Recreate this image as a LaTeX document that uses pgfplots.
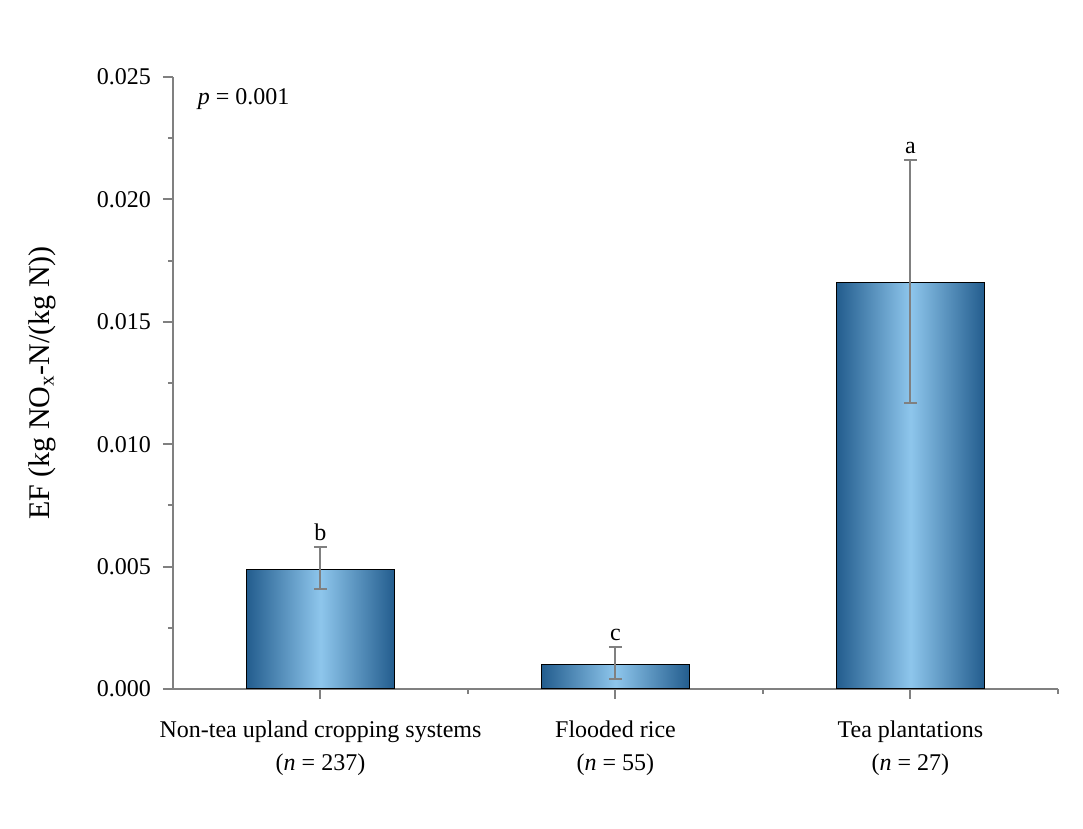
\documentclass[border=0pt]{standalone}
\usepackage{fontspec}
\setmainfont{Liberation Serif}
\usepackage{pgfplots}
\usepackage{pgfplotstable}
\pgfplotsset{compat=1.18}
\definecolor{barDark}{HTML}{235D8E}
\definecolor{barLight}{HTML}{8EC6EC}
\definecolor{axgray}{HTML}{808080}
\pgfplotstableread{
x y ep em
0 0.0049 0.0009 0.0008
}\barA
\pgfplotstableread{
x y ep em
1 0.0010 0.0007 0.0006
}\barB
\pgfplotstableread{
x y ep em
2 0.0166 0.0050 0.0049
}\barC
\pgfplotstableread{
x y lab
0 0.0058 b
1 0.0017 c
2 0.0216 a
}\letters
\begin{document}
\begin{tikzpicture}
\path[use as bounding box] (-86.5pt,-70pt) rectangle (455pt,344.5pt);
\begin{axis}[
  scale only axis,
  width=442.5pt, height=306pt,
  xmin=-0.5, xmax=2.5,
  ymin=0, ymax=0.025,
  axis lines=left,
  axis line style={-, axgray, line width=1pt},
  tick style={axgray, line width=1pt},
  tick align=outside,
  major tick length=5pt,
  minor tick length=2.5pt,
  xtick={0,1,2},
  minor xtick={0.5,1.5,2.5},
  xticklabels={{Non-tea upland cropping systems\\(\textit{n} = 237)},{Flooded rice\\(\textit{n} = 55)},{Tea plantations\\(\textit{n} = 27)}},
  xticklabel style={align=center, font=\fontsize{12}{16.5}\selectfont, text=black, yshift=-7.5pt},
  ytick={0,0.005,0.010,0.015,0.020,0.025},
  minor ytick={0.0025,0.0075,0.0125,0.0175,0.0225},
  scaled y ticks=false,
  yticklabel style={/pgf/number format/fixed, /pgf/number format/precision=3, /pgf/number format/fixed zerofill, /pgf/number format/assume math mode=true, font=\fontsize{12}{14}\selectfont, text=black, xshift=-2.5pt},
  ylabel={EF (kg NO\textsubscript{x}-N/(kg N))},
  ylabel style={at={(axis description cs:-0.148,0.5)}, anchor=center, font=\fontsize{15}{18}\selectfont},
  clip=false,
  barstyle/.style={ybar, bar width=0.5, draw=black, line width=0.5pt,
    left color=barDark, right color=barDark, middle color=barLight,
    error bars/.cd, y dir=both, y explicit,
    error bar style={axgray, line width=1pt},
    error mark options={rotate=90, mark size=3.25pt, axgray, line width=1pt}},
]
\addplot[barstyle] table[x=x, y=y, y error plus=ep, y error minus=em] {\barA};
\addplot[barstyle] table[x=x, y=y, y error plus=ep, y error minus=em] {\barB};
\addplot[barstyle] table[x=x, y=y, y error plus=ep, y error minus=em] {\barC};
\addplot[only marks, mark=none, nodes near coords, point meta=explicit symbolic,
  nodes near coords style={anchor=base, yshift=3.5pt, font=\fontsize{12}{14}\selectfont}]
  table[x=x, y=y, meta=lab] {\letters};
\node[anchor=west, font=\fontsize{12}{14}\selectfont] at (rel axis cs:0.02,0.964) {\textit{p} = 0.001};
\end{axis}
\end{tikzpicture}
\end{document}
